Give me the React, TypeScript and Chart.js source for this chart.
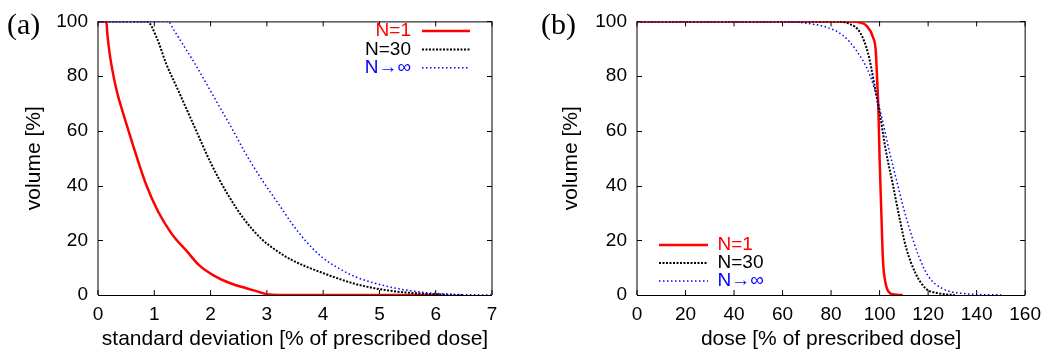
import React, { useEffect, useRef } from "react";
import { Chart, registerables } from "chart.js";

Chart.register(...registerables);

// ---------- data (a): volume [%] vs standard deviation [% of prescribed dose]
const sdN1X = [0, 0.148, 0.166, 0.207, 0.266, 0.343, 0.444, 0.533, 0.68, 0.858, 1.065, 1.3, 1.4, 1.57, 1.8, 2.05, 2.35, 2.65, 2.8, 3.0, 3.2, 6.1];
const sdN1Y = [100, 100, 95.4, 88.2, 81, 73.8, 66.6, 60.6, 51, 40.2, 30.6, 22.6, 20, 16.2, 10.8, 7.2, 4.3, 2.4, 1.5, 0.3, 0, 0];

const sdN30X = [0, 0.87, 1.04, 1.21, 1.42, 1.72, 2.01, 2.31, 2.6, 2.9, 3.2, 3.5, 4.0, 4.58, 5.17, 5.76, 6.2, 6.5];
const sdN30Y = [100, 100, 94.2, 84.6, 75, 61.2, 48, 36.6, 27.6, 20.6, 15.8, 12.2, 8.0, 4.0, 1.6, 0.5, 0.1, 0];

const sdInfX = [0, 1.243, 1.35, 1.48, 1.72, 2.07, 2.43, 2.6, 2.9, 3.2, 3.45, 3.7, 4.0, 4.3, 4.58, 5.17, 5.76, 6.35, 7.0];
const sdInfY = [100, 100, 96.8, 92.5, 84.6, 72, 59, 52.5, 42.5, 33.5, 26, 19.5, 13.5, 9.5, 6.6, 3.0, 1.0, 0.2, 0];

// ---------- data (b): volume [%] vs dose [% of prescribed dose]
const doseN1X = [0, 89, 92, 94.6, 97.3, 98.4, 99, 99.5, 100, 100.7, 101.4, 102.5, 104.1, 106, 109.5];
const doseN1Y = [100, 100, 99.6, 98.4, 94.2, 89.4, 78.6, 68, 50, 30.6, 12.6, 4.2, 0.8, 0.2, 0];

const doseN30X = [0, 82, 87.8, 91.9, 95.3, 98, 100, 102.7, 105.5, 108.2, 110.9, 114.9, 119, 124.4, 131];
const doseN30Y = [100, 100, 99, 96, 88.2, 76.2, 66.6, 52.2, 40.2, 28.2, 17.4, 7.8, 2.4, 0.6, 0];

const doseInfX = [0, 60, 71.5, 78.4, 85, 90.4, 96, 98.7, 101.4, 104.1, 106.8, 109.5, 112.2, 116.3, 120.3, 125.8, 133.9, 151];
const doseInfY = [100, 100, 99.1, 97.8, 94.8, 89.4, 80.4, 72.6, 63, 52.2, 42.6, 33, 24.6, 13.8, 6.6, 2.4, 0.6, 0];

// ---------- ticks and labels
const sdTicks = [0, 1, 2, 3, 4, 5, 6, 7];
const doseTicks = [0, 20, 40, 60, 80, 100, 120, 140, 160];
const volumeTicks = [0, 20, 40, 60, 80, 100];
const seriesLabels = ["N=1", "N=30", "N\u2192\u221e"];
const seriesColors = ["#ff0000", "#000000", "#0000ff"];
const seriesWidths = [2.5, 2, 1.5];
const seriesDashes: number[][] = [[], [2, 1.5], [1.5, 2.5]];

const SANS = '"Liberation Sans", Arial, sans-serif';
const SERIF = '"Liberation Serif", "Times New Roman", serif';

function pts(xs: number[], ys: number[]) {
  return xs.map((x, i) => ({ x, y: ys[i] }));
}

function makeDatasets(sets: { x: number[]; y: number[] }[]) {
  return sets.map((s, i) => ({
    label: seriesLabels[i],
    data: pts(s.x, s.y),
    borderColor: seriesColors[i],
    backgroundColor: seriesColors[i],
    borderWidth: seriesWidths[i],
    borderDash: seriesDashes[i],
    pointRadius: 0,
    showLine: true,
    fill: false,
    cubicInterpolationMode: "monotone" as const,
    order: 2 - i,
  }));
}

const framePlugin = {
  id: "frame",
  beforeDatasetsDraw(chart: any) {
    const { ctx, chartArea: a, scales } = chart;
    const xs = scales.x;
    const ys = scales.y;
    ctx.save();
    ctx.strokeStyle = "#000";
    ctx.lineWidth = 1;
    ctx.beginPath();
    ctx.moveTo(a.left, a.top + 0.5);
    ctx.lineTo(a.right, a.top + 0.5);
    ctx.moveTo(a.left, a.bottom + 0.5);
    ctx.lineTo(a.right, a.bottom + 0.5);
    ctx.moveTo(a.left, a.top);
    ctx.lineTo(a.left, a.bottom);
    ctx.moveTo(a.right, a.top);
    ctx.lineTo(a.right, a.bottom);
    const tl = 5;
    xs.ticks.forEach((t: any) => {
      const px = xs.getPixelForValue(t.value);
      ctx.moveTo(px, a.bottom);
      ctx.lineTo(px, a.bottom - tl);
      ctx.moveTo(px, a.top);
      ctx.lineTo(px, a.top + tl);
    });
    ys.ticks.forEach((t: any) => {
      const py = Math.round(ys.getPixelForValue(t.value)) + 0.5;
      ctx.moveTo(a.left, py);
      ctx.lineTo(a.left + tl, py);
      ctx.moveTo(a.right, py);
      ctx.lineTo(a.right - tl, py);
    });
    ctx.stroke();
    ctx.restore();
  },
};

type LegendSpec = {
  panel: string;
  panelX: number;
  textAlign: "left" | "right";
  textX: number;
  lineX0: number;
  lineX1: number;
  rowY0: number;
  rowStep: number;
};

function makeOverlayPlugin(spec: LegendSpec) {
  return {
    id: "overlay",
    afterDraw(chart: any) {
      const { ctx } = chart;
      ctx.save();
      ctx.fillStyle = "#000";
      ctx.font = `30px ${SERIF}`;
      ctx.textAlign = "left";
      ctx.textBaseline = "alphabetic";
      ctx.fillText(spec.panel, spec.panelX, 34);
      seriesLabels.forEach((lab, i) => {
        const y = spec.rowY0 + i * spec.rowStep;
        ctx.font = `19px ${SANS}`;
        ctx.fillStyle = seriesColors[i];
        ctx.textAlign = spec.textAlign;
        ctx.textBaseline = "middle";
        ctx.fillText(lab, spec.textX, y);
        ctx.strokeStyle = seriesColors[i];
        ctx.lineWidth = seriesWidths[i];
        ctx.setLineDash(seriesDashes[i]);
        ctx.beginPath();
        ctx.moveTo(spec.lineX0, y);
        ctx.lineTo(spec.lineX1, y);
        ctx.stroke();
        ctx.setLineDash([]);
      });
      ctx.restore();
    },
  };
}

function makeConfig(opts: {
  sets: { x: number[]; y: number[] }[];
  xMax: number;
  xTicks: number[];
  xTitle: string;
  padRight: number;
  yTitlePad: number;
  legend: LegendSpec;
}) {
  return {
    type: "scatter" as const,
    data: { datasets: makeDatasets(opts.sets) },
    options: {
      animation: false as const,
      responsive: false,
      maintainAspectRatio: false,
      layout: { padding: { top: 17, right: opts.padRight, bottom: 0, left: 0 } },
      plugins: { legend: { display: false }, tooltip: { enabled: false } },
      scales: {
        x: {
          type: "linear" as const,
          min: 0,
          max: opts.xMax,
          afterBuildTicks: (s: any) => {
            s.ticks = opts.xTicks.map((v) => ({ value: v }));
          },
          afterFit: (s: any) => {
            s.height = 59;
          },
          grid: { display: false, drawTicks: false },
          border: { display: false },
          ticks: {
            autoSkip: false,
            maxRotation: 0,
            padding: 8,
            color: "#000",
            font: { family: SANS, size: 19 },
          },
          title: {
            display: true,
            text: opts.xTitle,
            color: "#000",
            font: { family: SANS, size: 21 },
            padding: { top: 0, bottom: 2 },
          },
        },
        y: {
          type: "linear" as const,
          min: 0,
          max: 100,
          afterBuildTicks: (s: any) => {
            s.ticks = volumeTicks.map((v) => ({ value: v }));
          },
          afterFit: (s: any) => {
            s.width = 98;
          },
          grid: { display: false, drawTicks: false },
          border: { display: false },
          ticks: {
            padding: 10,
            color: "#000",
            font: { family: SANS, size: 19 },
          },
          title: {
            display: true,
            text: "volume [%]",
            color: "#000",
            font: { family: SANS, size: 21 },
            padding: { top: opts.yTitlePad, bottom: 0 },
          },
        },
      },
    },
    plugins: [framePlugin, makeOverlayPlugin(opts.legend)],
  };
}

function Panel(props: { config: any; left: number; width: number }) {
  const ref = useRef<HTMLCanvasElement | null>(null);
  useEffect(() => {
    if (!ref.current) return;
    const chart = new Chart(ref.current, props.config);
    return () => chart.destroy();
  }, []);
  return (
    <canvas
      ref={ref}
      width={props.width}
      height={354}
      style={{ position: "absolute", left: props.left, top: 0, width: props.width, height: 354 }}
    />
  );
}

export default function App() {
  const configA = makeConfig({
    sets: [
      { x: sdN1X, y: sdN1Y },
      { x: sdN30X, y: sdN30Y },
      { x: sdInfX, y: sdInfY },
    ],
    xMax: 7,
    xTicks: sdTicks,
    xTitle: "standard deviation [% of prescribed dose]",
    padRight: 47,
    yTitlePad: 22,
    legend: {
      panel: "(a)",
      panelX: 7,
      textAlign: "right",
      textX: 411,
      lineX0: 422,
      lineX1: 470,
      rowY0: 31,
      rowStep: 18.4,
    },
  });
  const configB = makeConfig({
    sets: [
      { x: doseN1X, y: doseN1Y },
      { x: doseN30X, y: doseN30Y },
      { x: doseInfX, y: doseInfY },
    ],
    xMax: 160,
    xTicks: doseTicks,
    xTitle: "dose [% of prescribed dose]",
    padRight: 18,
    yTitlePad: 20,
    legend: {
      panel: "(b)",
      panelX: 2,
      textAlign: "left",
      textX: 178.5,
      lineX0: 120,
      lineX1: 169,
      rowY0: 245,
      rowStep: 18,
    },
  });
  return (
    <div
      style={{
        position: "fixed",
        left: 0,
        top: 0,
        width: 1049,
        height: 354,
        background: "#fff",
        overflow: "hidden",
      }}
    >
      <Panel config={configA} left={0} width={539} />
      <Panel config={configB} left={539} width={510} />
    </div>
  );
}
